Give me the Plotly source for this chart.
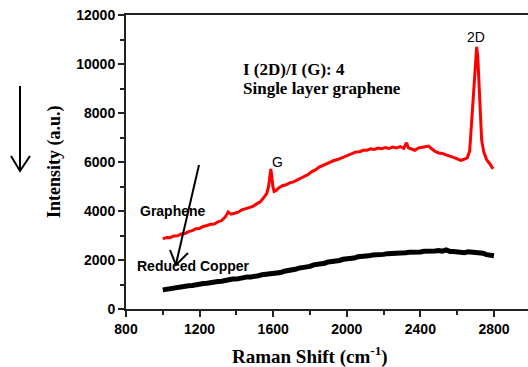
import plotly.graph_objects as go

# Graphene (red) spectrum
red_x = [1000, 1020, 1040, 1060, 1080, 1100, 1120, 1140, 1160, 1180, 1200, 1220, 1240, 1260, 1280,
         1300, 1320, 1340, 1355, 1370, 1390, 1410, 1430, 1450, 1470, 1490, 1510, 1530, 1550, 1565,
         1575, 1582, 1587, 1592, 1598, 1605, 1615, 1630, 1650, 1670, 1690, 1710, 1730, 1750, 1770,
         1790, 1810, 1830, 1850, 1870, 1890, 1910, 1930, 1950, 1970, 1990, 2010, 2030, 2050, 2070,
         2090, 2110, 2130, 2150, 2170, 2190, 2210, 2230, 2250, 2270, 2290, 2310, 2325, 2335, 2350,
         2370, 2390, 2410, 2430, 2445, 2460, 2480, 2500, 2520, 2540, 2560, 2580, 2600, 2620, 2640,
         2655, 2668, 2680, 2690, 2700, 2706, 2712, 2718, 2725, 2733, 2745, 2760, 2775, 2785, 2795]
red_y = [2860, 2920, 2910, 2980, 2990, 3060, 3080, 3160, 3200, 3280, 3290, 3370, 3410, 3460, 3470,
         3560, 3610, 3760, 3960, 3870, 3910, 3950, 4050, 4090, 4160, 4190, 4290, 4370, 4560, 4720,
         5000, 5500, 5720, 5450, 5000, 4800, 4830, 4940, 5030, 5070, 5150, 5190, 5270, 5320, 5430,
         5490, 5610, 5680, 5790, 5860, 5940, 5990, 6060, 6100, 6160, 6220, 6310, 6360, 6410, 6420,
         6480, 6480, 6540, 6510, 6570, 6540, 6590, 6550, 6610, 6570, 6630, 6560, 6790, 6580, 6530,
         6480, 6570, 6590, 6630, 6650, 6550, 6430, 6370, 6350, 6290, 6250, 6190, 6130, 6070, 6120,
         6170, 6450, 7800, 9300, 10400, 10700, 10300, 9300, 7900, 6900, 6400, 6100, 5950, 5820, 5720]

# Reduced copper (black) spectrum
black_x = [1000, 1020, 1040, 1060, 1080, 1100, 1120, 1140, 1160, 1180, 1200, 1220, 1240, 1260, 1280,
           1300, 1320, 1340, 1360, 1380, 1400, 1420, 1440, 1460, 1480, 1500, 1520, 1540, 1560, 1580,
           1600, 1620, 1640, 1660, 1680, 1700, 1720, 1740, 1760, 1780, 1800, 1820, 1840, 1860, 1880,
           1900, 1920, 1940, 1960, 1980, 2000, 2020, 2040, 2060, 2080, 2100, 2120, 2140, 2160, 2180,
           2200, 2220, 2240, 2260, 2280, 2300, 2320, 2340, 2360, 2380, 2400, 2420, 2440, 2460, 2480,
           2500, 2520, 2540, 2560, 2580, 2600, 2620, 2640, 2660, 2680, 2700, 2720, 2740, 2760, 2780, 2800]
black_y = [780, 810, 820, 860, 860, 900, 910, 950, 960, 1000, 1000, 1040, 1050, 1090, 1080,
           1120, 1130, 1170, 1180, 1220, 1220, 1260, 1270, 1310, 1310, 1360, 1360, 1400, 1410, 1450,
           1450, 1490, 1490, 1540, 1550, 1610, 1620, 1670, 1680, 1730, 1740, 1800, 1810, 1860, 1870,
           1920, 1930, 1970, 1980, 2030, 2030, 2080, 2080, 2130, 2130, 2170, 2170, 2200, 2200, 2240,
           2230, 2260, 2260, 2290, 2280, 2310, 2300, 2320, 2310, 2340, 2330, 2360, 2350, 2360, 2370,
           2390, 2360, 2410, 2350, 2350, 2320, 2310, 2300, 2340, 2330, 2340, 2300, 2280, 2220, 2200, 2170]

x_ticks = [800, 1200, 1600, 2000, 2400, 2800]
x_labels = ["800", "1200", "1600", "2000", "2400", "2800"]
y_ticks = [0, 2000, 4000, 6000, 8000, 10000, 12000]
y_labels = ["0", "2000", "4000", "6000", "8000", "10000", "12000"]

W, H = 528, 367
L, R, T, B = 126, 0, 15, 58
PW, PH = W - L - R, H - T - B

def px(x):
    return (x - L) / PW

def py(y):
    return (H - B - y) / PH

fig = go.Figure()
fig.add_trace(go.Scatter(x=red_x, y=red_y, mode="lines",
                         line=dict(color="#ff0000", width=3), showlegend=False))
fig.add_trace(go.Scatter(x=black_x, y=black_y, mode="lines",
                         line=dict(color="#000000", width=5), showlegend=False))

tickfont = dict(family="Arial, Liberation Sans, sans-serif", size=14, color="black", weight="bold")
axcol = "#222222"

fig.update_xaxes(range=[800, 2985], tickvals=x_ticks, ticktext=x_labels, ticks="outside", ticklen=6,
                 tickwidth=1.5, tickcolor=axcol, showline=True, linecolor=axcol, linewidth=2, mirror=True,
                 showgrid=False, zeroline=False, tickfont=tickfont,
                 minor=dict(dtick=200, tick0=800, ticks="outside", ticklen=4, tickwidth=1.5, tickcolor=axcol))
fig.update_yaxes(range=[0, 12000], tickvals=y_ticks, ticktext=y_labels, ticks="outside", ticklen=6,
                 tickwidth=1.5, tickcolor=axcol, showline=True, linecolor=axcol, linewidth=2, mirror=False,
                 showgrid=False, zeroline=False, tickfont=tickfont,
                 minor=dict(dtick=1000, tick0=0, ticks="outside", ticklen=4, tickwidth=1.5, tickcolor=axcol))

serif = "Times New Roman, Liberation Serif, serif"
sans = "Arial, Liberation Sans, sans-serif"
ann = []
ann.append(dict(x=px(310), y=py(355), xref="paper", yref="paper", showarrow=False,
                text="Raman Shift (cm<sup>-1</sup>)", xanchor="center", yanchor="middle",
                font=dict(family=serif, size=19, color="black", weight="bold")))
ann.append(dict(x=px(54), y=py(162), xref="paper", yref="paper", showarrow=False,
                text="Intensity (a.u.)", textangle=-90, xanchor="center", yanchor="middle",
                font=dict(family=serif, size=18, color="black", weight="bold")))
ann.append(dict(x=px(241), y=py(69), xref="paper", yref="paper", showarrow=False,
                text="I (2D)/I (G): 4", xanchor="left", yanchor="middle",
                font=dict(family=serif, size=17, color="black", weight="bold")))
ann.append(dict(x=px(241), y=py(89), xref="paper", yref="paper", showarrow=False,
                text="Single layer graphene", xanchor="left", yanchor="middle",
                font=dict(family=serif, size=17, color="black", weight="bold")))
ann.append(dict(x=px(476), y=py(37), xref="paper", yref="paper", showarrow=False, text="2D",
                xanchor="center", yanchor="middle", font=dict(family=sans, size=14, color="black")))
ann.append(dict(x=px(277), y=py(162), xref="paper", yref="paper", showarrow=False, text="G",
                xanchor="center", yanchor="middle", font=dict(family=sans, size=14, color="black")))
ann.append(dict(x=px(173), y=py(211), xref="paper", yref="paper", showarrow=False, text="Graphene",
                xanchor="center", yanchor="middle",
                font=dict(family=sans, size=14, color="black", weight="bold")))
ann.append(dict(x=px(193), y=py(266), xref="paper", yref="paper", showarrow=False, text="Reduced Copper",
                xanchor="center", yanchor="middle",
                font=dict(family=sans, size=14, color="black", weight="bold")))

# arrows drawn as shapes (pixel positions converted to paper coordinates)
def seg(x0, y0, x1, y1):
    return dict(type="line", xref="paper", yref="paper", x0=px(x0), y0=py(y0), x1=px(x1), y1=py(y1),
                line=dict(color="black", width=2))

def chevron(a, tip, b):
    p = "M {} {} L {} {} L {} {}".format(px(a[0]), py(a[1]), px(tip[0]), py(tip[1]), px(b[0]), py(b[1]))
    return dict(type="path", xref="paper", yref="paper", path=p, line=dict(color="black", width=2))

shapes = [
    seg(20, 86, 20, 170),
    chevron((11, 156), (20, 171), (30, 156)),
    seg(199, 165, 176, 264),
    chevron((170, 250), (176, 265), (188, 253)),
]

fig.update_layout(width=W, height=H, margin=dict(l=L, r=R, t=T, b=B),
                  paper_bgcolor="white", plot_bgcolor="white", annotations=ann, shapes=shapes,
                  showlegend=False)
fig.write_html("out.html")
